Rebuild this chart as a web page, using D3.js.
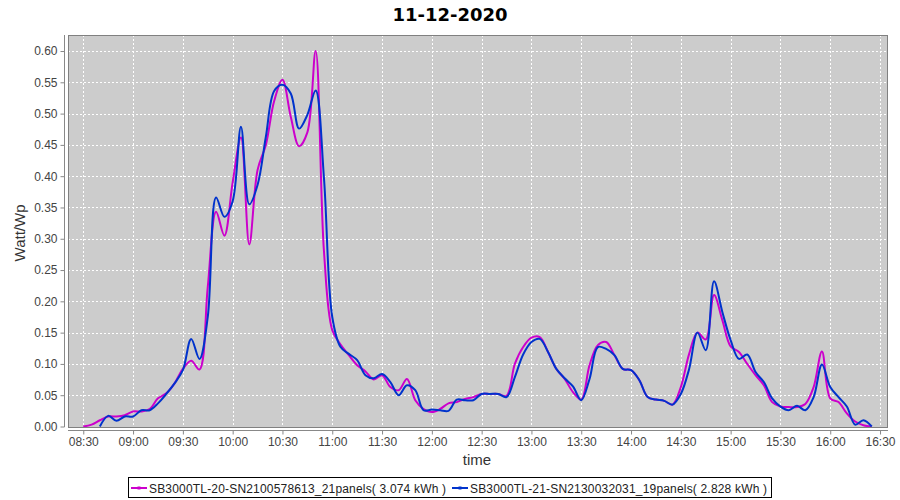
<!DOCTYPE html>
<html><head><meta charset="utf-8">
<script src="https://cdn.jsdelivr.net/npm/d3@7"></script>
<style>body{margin:0;background:#fff}svg{display:block}text{font-family:"Liberation Sans",Arial,sans-serif}</style>
</head><body>
<svg id="c" width="900" height="500"></svg>
<script>
const title = "11-12-2020";
const startTime = "08:30";
const stepMinutes = 5;
const seriesNames = ["SB3000TL-20-SN2100578613_21panels( 3.074 kWh )","SB3000TL-21-SN2130032031_19panels( 2.828 kWh )"];
const seriesColors = ["#cc00cc","#0033cc"];
const magenta = [0.000,0.003,0.010,0.016,0.016,0.018,0.024,0.024,0.028,0.045,0.053,0.069,0.092,0.105,0.091,0.223,0.343,0.305,0.390,0.462,
0.291,0.410,0.450,0.520,0.554,0.495,0.448,0.470,0.600,0.280,0.154,0.131,0.114,0.098,0.088,0.075,0.082,0.063,0.058,0.076,
0.042,0.028,0.023,0.028,0.037,0.039,0.044,0.047,0.052,0.052,0.052,0.049,0.100,0.127,0.142,0.143,0.119,0.092,0.076,0.055,
0.043,0.098,0.130,0.135,0.114,0.092,0.090,0.074,0.047,0.043,0.041,0.035,0.063,0.116,0.150,0.139,0.210,0.170,0.128,0.119,
0.100,0.082,0.066,0.039,0.032,0.031,0.031,0.036,0.063,0.120,0.045,0.039,0.021,0.008,0.002,0.000];
const blue = [null,null,0.000,0.017,0.009,0.016,0.016,0.026,0.026,0.037,0.052,0.069,0.090,0.140,0.108,0.175,0.366,0.335,0.360,0.479,
0.355,0.386,0.463,0.536,0.546,0.532,0.476,0.498,0.537,0.397,0.175,0.127,0.116,0.106,0.082,0.077,0.084,0.071,0.050,0.066,
0.058,0.026,0.027,0.026,0.025,0.043,0.042,0.042,0.052,0.052,0.052,0.047,0.079,0.115,0.135,0.140,0.119,0.092,0.077,0.064,
0.042,0.076,0.127,0.124,0.114,0.092,0.090,0.074,0.047,0.043,0.041,0.035,0.052,0.092,0.150,0.122,0.232,0.183,0.138,0.108,
0.115,0.087,0.071,0.045,0.032,0.026,0.033,0.026,0.047,0.099,0.063,0.047,0.032,0.003,0.010,0.000];
const yTicks = [0,0.05,0.10,0.15,0.20,0.25,0.30,0.35,0.40,0.45,0.50,0.55,0.60];
const xTickLabels = ["08:30","09:00","09:30","10:00","10:30","11:00","11:30","12:00","12:30","13:00","13:30","14:00","14:30","15:00","15:30","16:00","16:30"];

const toMin = s => { const [h,m] = s.split(":").map(Number); return h*60+m; };
const t0 = toMin(startTime);
const svg = d3.select("#c");
const L = 68, R = 888, T = 35, B = 427;
const x = d3.scaleLinear().domain([500.8, 994.8]).range([L, R]);
const y = d3.scaleLinear().domain([0, 0.6256]).range([426.5, T]);

svg.append("rect").attr("x",L).attr("y",T).attr("width",R-L).attr("height",B-T).attr("fill","#cccccc");
// grid
const g = svg.append("g");
xTickLabels.forEach(s=>{ g.append("line").attr("x1",Math.round(x(toMin(s)))+0.5).attr("x2",Math.round(x(toMin(s)))+0.5).attr("y1",T).attr("y2",B).attr("stroke","#fff").attr("stroke-width",1).attr("stroke-dasharray","2,2"); });
yTicks.forEach(v=>{ g.append("line").attr("x1",L).attr("x2",R).attr("y1",Math.round(y(v))+0.5).attr("y2",Math.round(y(v))+0.5).attr("stroke","#fff").attr("stroke-width",1).attr("stroke-dasharray","2,2"); });

// lines
const clip = svg.append("clipPath").attr("id","pc").append("rect").attr("x",L).attr("y",T).attr("width",R-L).attr("height",B-T);
const line = d3.line().defined(d=>d[1]!==null).x(d=>x(d[0])).y(d=>y(d[1])).curve(d3.curveCatmullRom.alpha(0.5));
[magenta, blue].forEach((arr,k)=>{
  const pts = arr.map((v,i)=>[t0+i*stepMinutes, v]);
  svg.append("path").attr("d", line(pts)).attr("fill","none").attr("stroke",seriesColors[k]).attr("stroke-width",2).attr("clip-path","url(#pc)");
});
svg.append("rect").attr("x",L+0.5).attr("y",T+0.5).attr("width",R-L-1).attr("height",B-T).attr("fill","none").attr("stroke","#808080");

// y axis
const ya = svg.append("g").attr("transform","translate(64.5,0)").call(d3.axisLeft(y).tickValues(yTicks).tickFormat(d3.format(".2f")).tickSize(4).tickPadding(3));
ya.select(".domain").attr("d",`M0,${T}V${B}`).attr("stroke","#888");
ya.selectAll(".tick line").attr("stroke","#888");
ya.selectAll("text").attr("fill","#444").style("font-size","12px").style("font-family","Liberation Sans, Arial, sans-serif");
// x axis
const xa = svg.append("g").attr("transform","translate(0,430.5)").call(d3.axisBottom(x).tickValues(xTickLabels.map(toMin)).tickFormat((d,i)=>xTickLabels[i]).tickSize(4).tickPadding(3));
xa.select(".domain").attr("d",`M${L},0H${R}`).attr("stroke","#888");
xa.selectAll(".tick line").attr("stroke","#888");
xa.selectAll("text").attr("fill","#444").style("font-size","12px").style("font-family","Liberation Sans, Arial, sans-serif");

// titles
svg.append("text").attr("x",450).attr("y",21).attr("text-anchor","middle").style("font-family","DejaVu Sans").style("font-weight","bold").style("font-size","18px").text(title);
svg.append("text").attr("transform","translate(25,233) rotate(-90)").attr("text-anchor","middle").style("font-size","15px").attr("fill","#333").text("Watt/Wp");
svg.append("text").attr("x",477).attr("y",465).attr("text-anchor","middle").style("font-size","15px").attr("fill","#333").text("time");

// legend
svg.append("rect").attr("x",128.5).attr("y",477.5).attr("width",643).attr("height",20).attr("fill","#fff").attr("stroke","#000");
const legX = [131, 452];
seriesNames.forEach((n,k)=>{
  svg.append("line").attr("x1",legX[k]).attr("x2",legX[k]+16).attr("y1",488).attr("y2",488).attr("stroke",seriesColors[k]).attr("stroke-width",2);
  svg.append("rect").attr("x",legX[k]+6.5).attr("y",486.5).attr("width",3).attr("height",3).attr("fill",seriesColors[k]);
  svg.append("text").attr("x",legX[k]+18).attr("y",492.5).style("font-size","12px").attr("fill","#222").attr("textLength",297).attr("lengthAdjust","spacing").text(n);
});
</script>
</body></html>
